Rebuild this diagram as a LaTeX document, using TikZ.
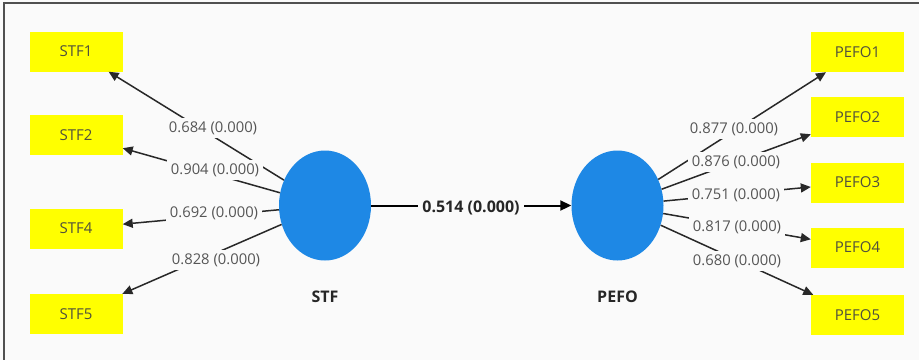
\documentclass[tikz,border=0pt]{standalone}
\usepackage{fontspec}
\setmainfont{Open Sans}
\usetikzlibrary{arrows.meta,shapes.geometric,calc}
\definecolor{bgc}{RGB}{250,250,250}
\definecolor{framec}{RGB}{80,80,80}
\definecolor{boxy}{RGB}{255,255,0}
\definecolor{circb}{RGB}{30,136,229}
\definecolor{txtg}{RGB}{85,85,85}
\definecolor{boxt}{RGB}{80,80,60}
\definecolor{linec}{RGB}{40,40,40}
\tikzset{
  ind/.style={rectangle, fill=boxy, minimum width=93pt, minimum height=40pt, inner sep=0pt, text=boxt, font=\fontsize{15}{17}\selectfont},
  lat/.style={ellipse, fill=circb, minimum width=92pt, minimum height=110pt, inner sep=0pt},
  latname/.style={font=\bfseries\fontsize{16}{18}\selectfont, text=black!85},
  conn/.style={draw=linec, line width=1.5pt, -{Triangle[length=10pt,width=9pt]}},
  mainconn/.style={draw=black, line width=2pt, -{Triangle[length=11pt,width=10pt]}},
  wlab/.style={fill=bgc, inner xsep=4pt, inner ysep=3.5pt, text=txtg, font=\fontsize{14.8}{16}\selectfont},
  mainlab/.style={fill=bgc, inner xsep=4pt, inner ysep=3pt, text=black!85, font=\bfseries\fontsize{16}{18}\selectfont}
}
\begin{document}
\begin{tikzpicture}[x=1pt,y=-1pt]
\useasboundingbox (0,0) rectangle (919,360);
\fill[bgc] (0,0) rectangle (919,360);
\coordinate (fTL) at (4,3);
\coordinate (fTR) at (919,3);
\coordinate (fBL) at (4,360);
\draw[framec, line width=2pt] (fTR) -- (fTL) -- (fBL);

% indicator boxes
\node[ind] (stf1) at (76,51.5) {STF1};
\node[ind] (stf2) at (76,135) {STF2};
\node[ind] (stf4) at (76,228.5) {STF4};
\node[ind] (stf5) at (76,314) {STF5};
\node[ind] (pefo1) at (857.5,52) {PEFO1};
\node[ind] (pefo2) at (857.5,117) {PEFO2};
\node[ind] (pefo3) at (857.5,182.5) {PEFO3};
\node[ind] (pefo4) at (857.5,247.5) {PEFO4};
\node[ind] (pefo5) at (857.5,315) {PEFO5};

% latent variables
\node[lat] (stf) at (325,205.5) {};
\node[lat] (pefo) at (617.5,205.5) {};
\node[latname] (stfname) at (325,297) {STF};
\node[latname] (pefoname) at (617.5,297) {PEFO};

% connectors
\draw[conn] (stf) -- (stf1);
\draw[conn] (stf) -- (stf2);
\draw[conn] (stf) -- (stf4);
\draw[conn] (stf) -- (stf5);
\draw[conn] (pefo) -- (pefo1);
\draw[conn] (pefo) -- (pefo2);
\draw[conn] (pefo) -- (pefo3);
\draw[conn] (pefo) -- (pefo4);
\draw[conn] (pefo) -- (pefo5);
\draw[mainconn] (stf) -- (pefo);

% weights
\node[wlab] (w1) at (213,128) {0.684 (0.000)};
\node[wlab] (w2) at (215,170) {0.904 (0.000)};
\node[wlab] (w4) at (214,213) {0.692 (0.000)};
\node[wlab] (w5) at (216,260) {0.828 (0.000)};
\node[wlab] (v1) at (734,129) {0.877 (0.000)};
\node[wlab] (v2) at (736,162) {0.876 (0.000)};
\node[wlab] (v3) at (736,195) {0.751 (0.000)};
\node[wlab] (v4) at (737,227) {0.817 (0.000)};
\node[wlab] (v5) at (737,261) {0.680 (0.000)};
\node[mainlab] (path) at (471,207.5) {0.514 (0.000)};
\end{tikzpicture}
\end{document}
